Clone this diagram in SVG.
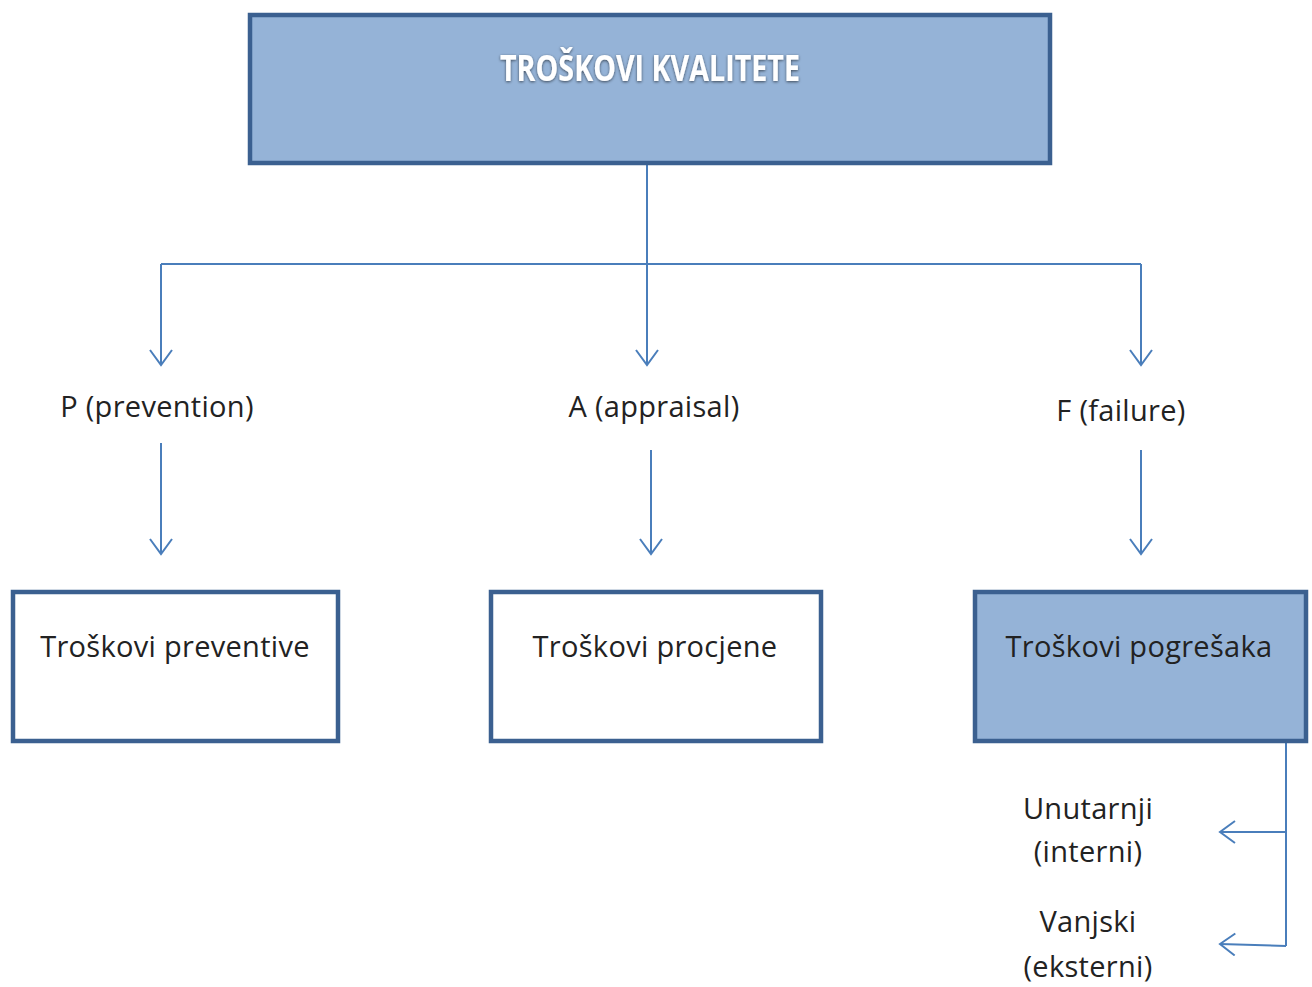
<svg xmlns="http://www.w3.org/2000/svg" width="1312" height="987" viewBox="0 0 1312 987">
<defs>
<style>
.box{stroke:#3b6090;stroke-width:4.5}
.fill{fill:#95b3d7}
.white{fill:#ffffff}
.lbl{font-family:"Open Sans","Noto Sans",sans-serif;font-size:29px;fill:#222;text-anchor:middle;letter-spacing:0.3px}
.title{font-family:"Open Sans","Noto Sans",sans-serif;font-size:35px;font-weight:bold;fill:#fff;text-anchor:middle}
.con{stroke:#4a7ebb;stroke-width:2;fill:none}
</style>
<marker id="arr" markerWidth="26" markerHeight="26" refX="16" refY="12" orient="auto" markerUnits="userSpaceOnUse">
<path d="M1,1 L16,12 L1,23" fill="none" stroke="#4a7ebb" stroke-width="2"/>
</marker>
<filter id="glow" x="-10%" y="-30%" width="120%" height="160%">
<feGaussianBlur in="SourceAlpha" stdDeviation="1.5"/>
<feOffset dx="0" dy="1"/>
<feComponentTransfer><feFuncA type="linear" slope="0.6"/></feComponentTransfer>
<feMerge><feMergeNode/><feMergeNode in="SourceGraphic"/></feMerge>
</filter>
</defs>
<rect width="1312" height="987" fill="#ffffff"/>
<g id="connectors">
<path class="con" d="M647,163 V365" marker-end="url(#arr)"/>
<path class="con" d="M161,264 H1141"/>
<path class="con" d="M161,264 V365" marker-end="url(#arr)"/>
<path class="con" d="M1141,264 V365" marker-end="url(#arr)"/>
<path class="con" d="M161,443 V554" marker-end="url(#arr)"/>
<path class="con" d="M651,450 V554" marker-end="url(#arr)"/>
<path class="con" d="M1141,450 V554" marker-end="url(#arr)"/>
<path class="con" d="M1286,742 V946"/>
<path class="con" d="M1286,832 H1220" marker-end="url(#arr)"/>
<path class="con" d="M1286,946 L1220,944" marker-end="url(#arr)"/>
</g>
<g id="node-troskovi-kvalitete">
<rect class="box fill" x="250" y="15" width="800" height="148"/>
<text class="title" x="650" y="81" textLength="300" lengthAdjust="spacingAndGlyphs" filter="url(#glow)">TROŠKOVI KVALITETE</text>
</g>
<g id="label-p">
<text class="lbl" x="157" y="417">P (prevention)</text>
</g>
<g id="label-a">
<text class="lbl" x="654" y="417">A (appraisal)</text>
</g>
<g id="label-f">
<text class="lbl" x="1121" y="421">F (failure)</text>
</g>
<g id="node-preventive">
<rect class="box white" x="13" y="592" width="325" height="149"/>
<text class="lbl" x="175" y="657">Troškovi preventive</text>
</g>
<g id="node-procjene">
<rect class="box white" x="491" y="592" width="330" height="149"/>
<text class="lbl" x="655" y="657">Troškovi procjene</text>
</g>
<g id="node-pogresaka">
<rect class="box fill" x="975" y="592" width="331" height="149"/>
<text class="lbl" x="1139" y="657">Troškovi pogrešaka</text>
</g>
<g id="label-interni">
<text class="lbl" x="1088" y="819">Unutarnji</text>
<text class="lbl" x="1088" y="862">(interni)</text>
</g>
<g id="label-eksterni">
<text class="lbl" x="1088" y="932">Vanjski</text>
<text class="lbl" x="1088" y="977">(eksterni)</text>
</g>
</svg>
